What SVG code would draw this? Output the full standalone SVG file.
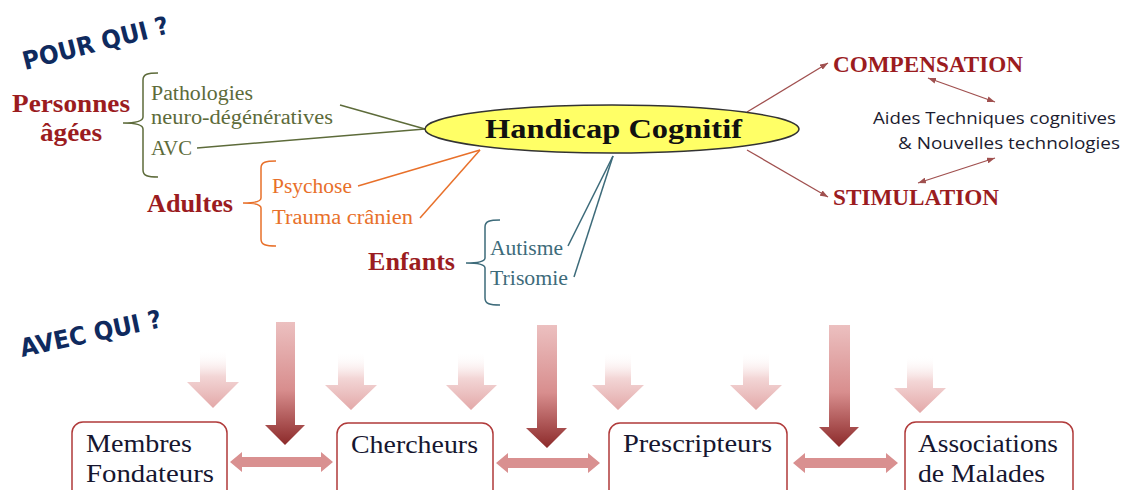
<svg xmlns="http://www.w3.org/2000/svg" width="1122" height="490" viewBox="0 0 1122 490">
<style>
.serif{font-family:"Liberation Serif","Times New Roman",serif;}
.bold{font-weight:bold;}
.cat{font-family:"Liberation Serif",serif;font-weight:bold;font-size:25px;fill:#9b1c1f;}
.sub{font-family:"Liberation Serif",serif;font-size:20px;}
.green{fill:#5d6b3a;}
.orange{fill:#e8702a;}
.teal{fill:#3d6b7a;}
.box{fill:#ffffff;stroke:#b03a3a;stroke-width:1.5;}
.boxt{font-family:"Liberation Serif",serif;font-size:25px;fill:#161630;}
.title{font-family:"DejaVu Sans","Liberation Sans",sans-serif;font-weight:bold;font-size:25px;fill:#0f2a5e;}
.big{font-family:"Liberation Serif",serif;font-weight:bold;font-size:23px;fill:#9b1c1f;}
.aid{font-family:"Open Sans","Liberation Sans",sans-serif;font-size:17px;fill:#1c1c30;}
.lg{fill:none;stroke:#5d6b3a;stroke-width:1.5;}
.lo{fill:none;stroke:#e8702a;stroke-width:1.5;}
.lt{fill:none;stroke:#3d6b7a;stroke-width:1.5;}
.lr{fill:none;stroke:#a0504f;stroke-width:1.3;}
.dark{fill:url(#gDark);}
.light{fill:url(#gLight);}
.harr{fill:#d99090;}
</style>
<defs>
<linearGradient id="gDark" x1="0" y1="0" x2="0" y2="1">
<stop offset="0" stop-color="#ecc0c0"/>
<stop offset="0.55" stop-color="#d88e8e"/>
<stop offset="1" stop-color="#8c2a2a"/>
</linearGradient>
<linearGradient id="gLight" x1="0" y1="0" x2="0" y2="1">
<stop offset="0" stop-color="#ffffff" stop-opacity="0"/>
<stop offset="0.45" stop-color="#f3d6d6"/>
<stop offset="1" stop-color="#e3a8a8"/>
</linearGradient>
<marker id="ah" markerWidth="8" markerHeight="6" refX="8" refY="3" orient="auto-start-reverse" markerUnits="userSpaceOnUse">
<path d="M0,0 L8,3 L0,6 Z" fill="#a0504f"/>
</marker>
</defs>

<rect width="1122" height="490" fill="#ffffff"/>

<g id="titles">
<text class="title" transform="translate(25,70) rotate(-14.3)" textLength="150" lengthAdjust="spacingAndGlyphs">POUR QUI ?</text>
<text class="title" transform="translate(22,357) rotate(-12)" textLength="144" lengthAdjust="spacingAndGlyphs">AVEC QUI ?</text>
</g>

<g id="connectors">
<path class="lg" d="M340,105 L425,129"/>
<path class="lg" d="M197,148 L425,129"/>
<path class="lo" d="M358,186 L480,150"/>
<path class="lo" d="M420,218 L480,150"/>
<path class="lt" d="M568,246 L613,156"/>
<path class="lt" d="M574,277 L613,156"/>
<path class="lr" d="M747,112 L828,63" marker-end="url(#ah)"/>
<path class="lr" d="M747,150 L828,197" marker-end="url(#ah)"/>
<path class="lr" d="M928,78 L995,102" marker-start="url(#ah)" marker-end="url(#ah)"/>
<path class="lr" d="M995,158 L918,183" marker-start="url(#ah)" marker-end="url(#ah)"/>
<path class="lg" d="M158,73 C148,73 143,74 143,80 L143,117 C143,121 138,123 123,123 C138,123 143,125 143,129 L143,170 C143,176 148,177 158,177"/>
<path class="lo" d="M276,161 C266,161 261,162 261,168 L261,198 C261,201 256,203 243,203 C256,203 261,205 261,208 L261,239 C261,245 266,246 276,246"/>
<path class="lt" d="M500,220 C490,220 485,221 485,227 L485,258 C485,261 480,263 466,263 C480,263 485,265 485,268 L485,298 C485,304 490,305 500,305"/>
<path class="dark" d="M276,322 L295,322 L295,425 L305,425 L285,445 L265,425 L276,425 Z"/>
<path class="dark" d="M537,325 L557,325 L557,428 L567,428 L547,448 L526,428 L537,428 Z"/>
<path class="dark" d="M829,325 L850,325 L850,427 L859,427 L839,447 L819,427 L829,427 Z"/>
<path class="light" d="M200,350 L226,350 L226,382 L239,382 L213,408 L187,382 L200,382 Z"/>
<path class="light" d="M338,352 L364,352 L364,385 L377,385 L351,410 L325,385 L338,385 Z"/>
<path class="light" d="M458,352 L484,352 L484,385 L497,385 L471,410 L446,385 L458,385 Z"/>
<path class="light" d="M605,352 L631,352 L631,385 L644,385 L618,410 L592,385 L605,385 Z"/>
<path class="light" d="M743,352 L769,352 L769,385 L782,385 L756,410 L730,385 L743,385 Z"/>
<path class="light" d="M907,355 L933,355 L933,388 L946,388 L920,413 L894,388 L907,388 Z"/>
<path class="harr" d="M230,462 L242,452 L242,457 L321,457 L321,452 L333,462 L321,472 L321,467 L242,467 L242,472 Z"/>
<path class="harr" d="M496,463 L508,453 L508,458 L588,458 L588,453 L600,463 L588,473 L588,468 L508,468 L508,473 Z"/>
<path class="harr" d="M793,463 L805,453 L805,458 L886,458 L886,453 L898,463 L886,473 L886,468 L805,468 L805,473 Z"/>
</g>

<g id="handicap">
<ellipse cx="612" cy="129" rx="187" ry="24" fill="#ffff66" stroke="#333333" stroke-width="1.5"/>
<text class="serif bold" x="485" y="138" font-size="27" fill="#111111" textLength="257" lengthAdjust="spacingAndGlyphs">Handicap Cognitif</text>
</g>

<g id="personnes-agees">
<text class="cat" x="12" y="112" textLength="118" lengthAdjust="spacingAndGlyphs">Personnes</text>
<text class="cat" x="40" y="141" textLength="62" lengthAdjust="spacingAndGlyphs">âgées</text>
</g>
<g id="pathologies">
<text class="sub green" x="151" y="100" textLength="102" lengthAdjust="spacingAndGlyphs">Pathologies</text>
<text class="sub green" x="151" y="124" textLength="182" lengthAdjust="spacingAndGlyphs">neuro-dégénératives</text>
</g>
<g id="avc">
<text class="sub green" x="151" y="155" textLength="41" lengthAdjust="spacingAndGlyphs">AVC</text>
</g>

<g id="adultes">
<text class="cat" x="147" y="212" textLength="86" lengthAdjust="spacingAndGlyphs">Adultes</text>
</g>
<g id="psychose">
<text class="sub orange" x="272" y="193" textLength="80" lengthAdjust="spacingAndGlyphs">Psychose</text>
</g>
<g id="trauma">
<text class="sub orange" x="272" y="224" textLength="141" lengthAdjust="spacingAndGlyphs">Trauma crânien</text>
</g>

<g id="enfants">
<text class="cat" x="368" y="270" textLength="87" lengthAdjust="spacingAndGlyphs">Enfants</text>
</g>
<g id="autisme">
<text class="sub teal" x="490" y="255" textLength="73" lengthAdjust="spacingAndGlyphs">Autisme</text>
</g>
<g id="trisomie">
<text class="sub teal" x="490" y="285" textLength="78" lengthAdjust="spacingAndGlyphs">Trisomie</text>
</g>

<g id="compensation">
<text class="big" x="833" y="72" textLength="190" lengthAdjust="spacingAndGlyphs">COMPENSATION</text>
</g>
<g id="stimulation">
<text class="big" x="833" y="205" textLength="166" lengthAdjust="spacingAndGlyphs">STIMULATION</text>
</g>
<g id="aides">
<text class="aid" x="873" y="124" textLength="243" lengthAdjust="spacingAndGlyphs">Aides Techniques cognitives</text>
<text class="aid" x="898" y="149" textLength="222" lengthAdjust="spacingAndGlyphs">&amp; Nouvelles technologies</text>
</g>

<g id="membres">
<rect class="box" x="72" y="422" width="155" height="80" rx="11"/>
<text class="boxt" x="86" y="452" textLength="106" lengthAdjust="spacingAndGlyphs">Membres</text>
<text class="boxt" x="86" y="482" textLength="128" lengthAdjust="spacingAndGlyphs">Fondateurs</text>
</g>
<g id="chercheurs">
<rect class="box" x="337" y="423" width="156" height="80" rx="11"/>
<text class="boxt" x="351" y="453" textLength="127" lengthAdjust="spacingAndGlyphs">Chercheurs</text>
</g>
<g id="prescripteurs">
<rect class="box" x="609" y="423" width="178" height="80" rx="11"/>
<text class="boxt" x="623" y="452" textLength="149" lengthAdjust="spacingAndGlyphs">Prescripteurs</text>
</g>
<g id="associations">
<rect class="box" x="905" y="422" width="168" height="80" rx="11"/>
<text class="boxt" x="918" y="452" textLength="140" lengthAdjust="spacingAndGlyphs">Associations</text>
<text class="boxt" x="918" y="482" textLength="127" lengthAdjust="spacingAndGlyphs">de Malades</text>
</g>
</svg>
